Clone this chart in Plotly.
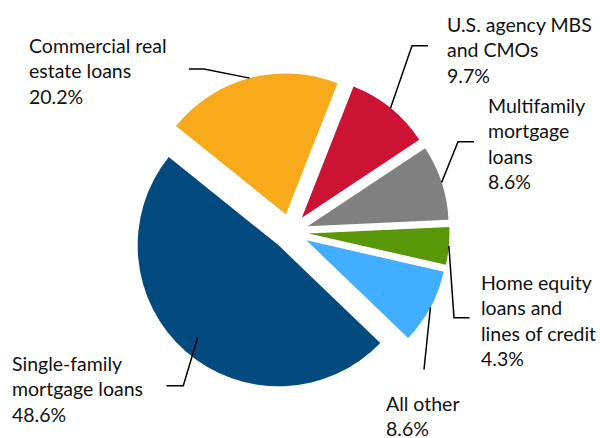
import math
import plotly.graph_objects as go

# Portfolio composition, clockwise from the first slice
categories = [
    "U.S. agency MBS and CMOs",
    "Multifamily mortgage loans",
    "Home equity loans and lines of credit",
    "All other",
    "Single-family mortgage loans",
    "Commercial real estate loans",
]
shares = [9.7, 8.6, 4.3, 8.6, 48.6, 20.2]
label_lines = [
    ["U.S. agency MBS", "and CMOs"],
    ["Multifamily", "mortgage", "loans"],
    ["Home equity", "loans and", "lines of credit"],
    ["All other"],
    ["Single-family", "mortgage loans"],
    ["Commercial real", "estate loans"],
]
colors = ["#CC1333", "#808080", "#5A9708", "#42AEFF", "#034A7F", "#F8AA1B"]

# Figure / pie geometry
W, H = 600, 438
PULL = 0.128
ROTATION = 21.5
DOM_X = [0.2192, 0.7492]
DOM_Y = [0.1078, 0.8338]

# Label placement (px from top-left): text box top-left corner
text_pos = [(445, 11.5), (486, 92), (479, 268.5), (384, 390), (10, 350), (27, 32)]
# Leader line bends on the label side (px), ending next to the text
leader_pts = [
    [(412, 45.7), (428, 45.7)],
    [(458, 141.7), (474, 141.7)],
    [(454, 317.7), (469.5, 317.7)],
    [(424, 369.5)],
    [(183.3, 385.7), (166.5, 385.7)],
    [(204, 69), (189, 69)],
]
# Where each leader line starts, as a fraction of the radius along the slice mid-angle
anchor_frac = [1.0, 1.0, 1.0, 1.0, 0.87, 1.0]

fig = go.Figure(
    go.Pie(
        labels=categories,
        values=shares,
        sort=False,
        direction="clockwise",
        rotation=ROTATION,
        pull=[PULL] * len(shares),
        marker=dict(colors=colors, line=dict(width=0)),
        textinfo="none",
        hoverinfo="label+percent",
        domain=dict(x=DOM_X, y=DOM_Y),
        showlegend=False,
    )
)

# Pixel geometry derived the same way plotly sizes a pulled pie
box_w = W * (DOM_X[1] - DOM_X[0])
box_h = H * (DOM_Y[1] - DOM_Y[0])
R = min(box_w, box_h) / 2 / (1 + PULL)
cx = W * (DOM_X[0] + DOM_X[1]) / 2
cy = H * (2 - DOM_Y[0] - DOM_Y[1]) / 2

total = sum(shares)


def to_paper(px, py):
    return px / W, 1 - py / H


shapes = []
annotations = []
start = ROTATION
for i, v in enumerate(shares):
    span = 360 * v / total
    mid = math.radians(start + span / 2)
    start += span
    dx, dy = math.sin(mid), -math.cos(mid)
    ox, oy = cx + PULL * R * dx, cy + PULL * R * dy
    ax, ay = ox + anchor_frac[i] * R * dx, oy + anchor_frac[i] * R * dy
    pts = [(ax, ay)] + leader_pts[i]
    path = ""
    for j, (px, py) in enumerate(pts):
        fx, fy = to_paper(px, py)
        path += ("M" if j == 0 else " L") + f" {fx:.5f},{fy:.5f}"
    shapes.append(
        dict(type="path", path=path, xref="paper", yref="paper",
             line=dict(color="black", width=1.5))
    )
    tx, ty = to_paper(*text_pos[i])
    text = "<br>".join(label_lines[i] + [f"{v:.1f}%"])
    annotations.append(
        dict(text=text, x=tx, y=ty, xref="paper", yref="paper",
             xanchor="left", yanchor="top", align="left", showarrow=False,
             font=dict(family="Lato, Carlito, Calibri, sans-serif", size=19.5, color="#111111"))
    )

fig.update_layout(
    width=W,
    height=H,
    margin=dict(l=0, r=0, t=0, b=0),
    paper_bgcolor="white",
    plot_bgcolor="white",
    shapes=shapes,
    annotations=annotations,
)

fig.write_html("out.html")
